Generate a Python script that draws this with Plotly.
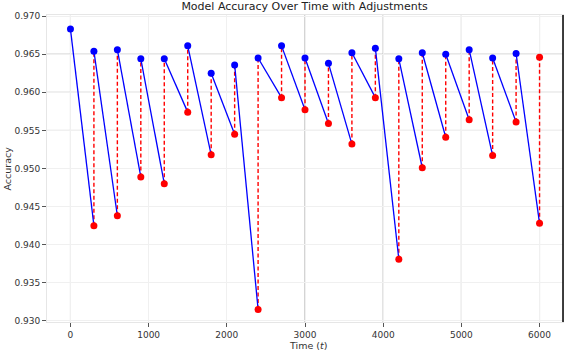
import plotly.graph_objects as go

# adjustment times and accuracy before/after each adjustment
start_time = 0
start_acc = 0.9683
adj_times = [300, 600, 900, 1200, 1500, 1800, 2100, 2400, 2700, 3000,
             3300, 3600, 3900, 4200, 4500, 4800, 5100, 5400, 5700, 6000]
acc_before = [0.9425, 0.9438, 0.9489, 0.9480, 0.9574, 0.9518, 0.9545, 0.9315, 0.9593, 0.9577,
              0.9559, 0.9532, 0.9593, 0.9381, 0.9501, 0.9541, 0.9564, 0.9517, 0.9561, 0.9428]
acc_after = [0.9654, 0.9656, 0.9644, 0.9644, 0.9661, 0.9625, 0.9636, 0.9645, 0.9661, 0.9645,
             0.9638, 0.9652, 0.9658, 0.9644, 0.9652, 0.9650, 0.9656, 0.9645, 0.9651, 0.9646]

x_ticks = [0, 1000, 2000, 3000, 4000, 5000, 6000]
y_ticks = [0.930, 0.935, 0.940, 0.945, 0.950, 0.955, 0.960, 0.965, 0.970]
dark_x_grid = [0, 3000, 4000, 5000, 6000]
dark_y_grid = [0.950, 0.955, 0.960, 0.965]

# blue decay segments: accuracy after an adjustment -> accuracy before the next one
prev_t = [start_time] + adj_times[:-1]
prev_acc = [start_acc] + acc_after[:-1]
line_t, line_acc = [], []
for t0, a0, t1, b1 in zip(prev_t, prev_acc, adj_times, acc_before):
    line_t += [t0, t1, None]
    line_acc += [a0, b1, None]

# dashed adjustment segments
seg_t, seg_acc = [], []
for t, b, a in zip(adj_times, acc_before, acc_after):
    seg_t += [t, t, None]
    seg_acc += [b, a, None]

fig = go.Figure()
fig.add_trace(go.Scatter(
    x=seg_t, y=seg_acc, mode='lines',
    line=dict(color='red', width=1.4, dash='4px,2.5px'),
    hoverinfo='skip'
))
fig.add_trace(go.Scatter(
    x=line_t, y=line_acc, mode='lines',
    line=dict(color='blue', width=1.3),
))
fig.add_trace(go.Scatter(
    x=prev_t, y=prev_acc, mode='markers',
    marker=dict(color='blue', size=7),
))
fig.add_trace(go.Scatter(
    x=adj_times + [adj_times[-1]], y=acc_before + [acc_after[-1]], mode='markers',
    marker=dict(color='red', size=7),
))

# gridlines: most in gray, some faded
shapes = []
for xv in dark_x_grid:
    shapes.append(dict(type='line', xref='x', yref='paper', x0=xv, x1=xv, y0=0, y1=1,
                       line=dict(color='#a8a8a8', width=1), layer='below'))
for yv in dark_y_grid:
    shapes.append(dict(type='line', xref='paper', yref='y', x0=0, x1=1, y0=yv, y1=yv,
                       line=dict(color='#a8a8a8', width=1), layer='below'))
shapes.append(dict(type='line', xref='paper', yref='paper', x0=1, x1=1, y0=0, y1=1,
                   line=dict(color='black', width=1.5)))

font = "DejaVu Sans, sans-serif"
fig.update_layout(
    width=564, height=352,
    margin=dict(l=47, r=1, t=15, b=30),
    paper_bgcolor='white', plot_bgcolor='white',
    font=dict(family=font, size=9, color='#333333'),
    title=dict(text='Model Accuracy Over Time with Adjustments', x=0.54, xanchor='center',
               y=0.982, yanchor='middle', font=dict(size=11, color='#222222')),
    shapes=shapes,
    showlegend=False,
    annotations=[
        dict(text='Time (<i>t</i>)', xref='paper', yref='paper', x=0.505, y=0,
             yshift=-23, yanchor='middle', showarrow=False, font=dict(size=9.5)),
        dict(text='Accuracy', xref='paper', yref='paper', x=0, y=0.5, xshift=-40,
             textangle=-90, xanchor='center', showarrow=False, font=dict(size=9.5)),
    ],
)
fig.update_xaxes(
    range=[-300, 6300], tickvals=x_ticks, ticktext=[str(v) for v in x_ticks],
    showgrid=True, gridcolor='#f0f0f0', zeroline=False, automargin=False,
    showline=True, linecolor='#e6e6e6', linewidth=1, mirror=True,
    ticks='outside', ticklen=4, tickcolor='#555555',
)
fig.update_yaxes(
    range=[0.92985, 0.97015], tickvals=y_ticks, ticktext=['%.3f' % v for v in y_ticks],
    showgrid=True, gridcolor='#f0f0f0', zeroline=False, automargin=False,
    showline=True, linecolor='#e6e6e6', linewidth=1, mirror=True,
    ticks='outside', ticklen=4, tickcolor='#555555',
)

# drop the browser's default page margin so the figure sits at the window's corner
fig.write_html("out.html", config={"displayModeBar": False},
               post_script="document.body.style.margin='0';")
